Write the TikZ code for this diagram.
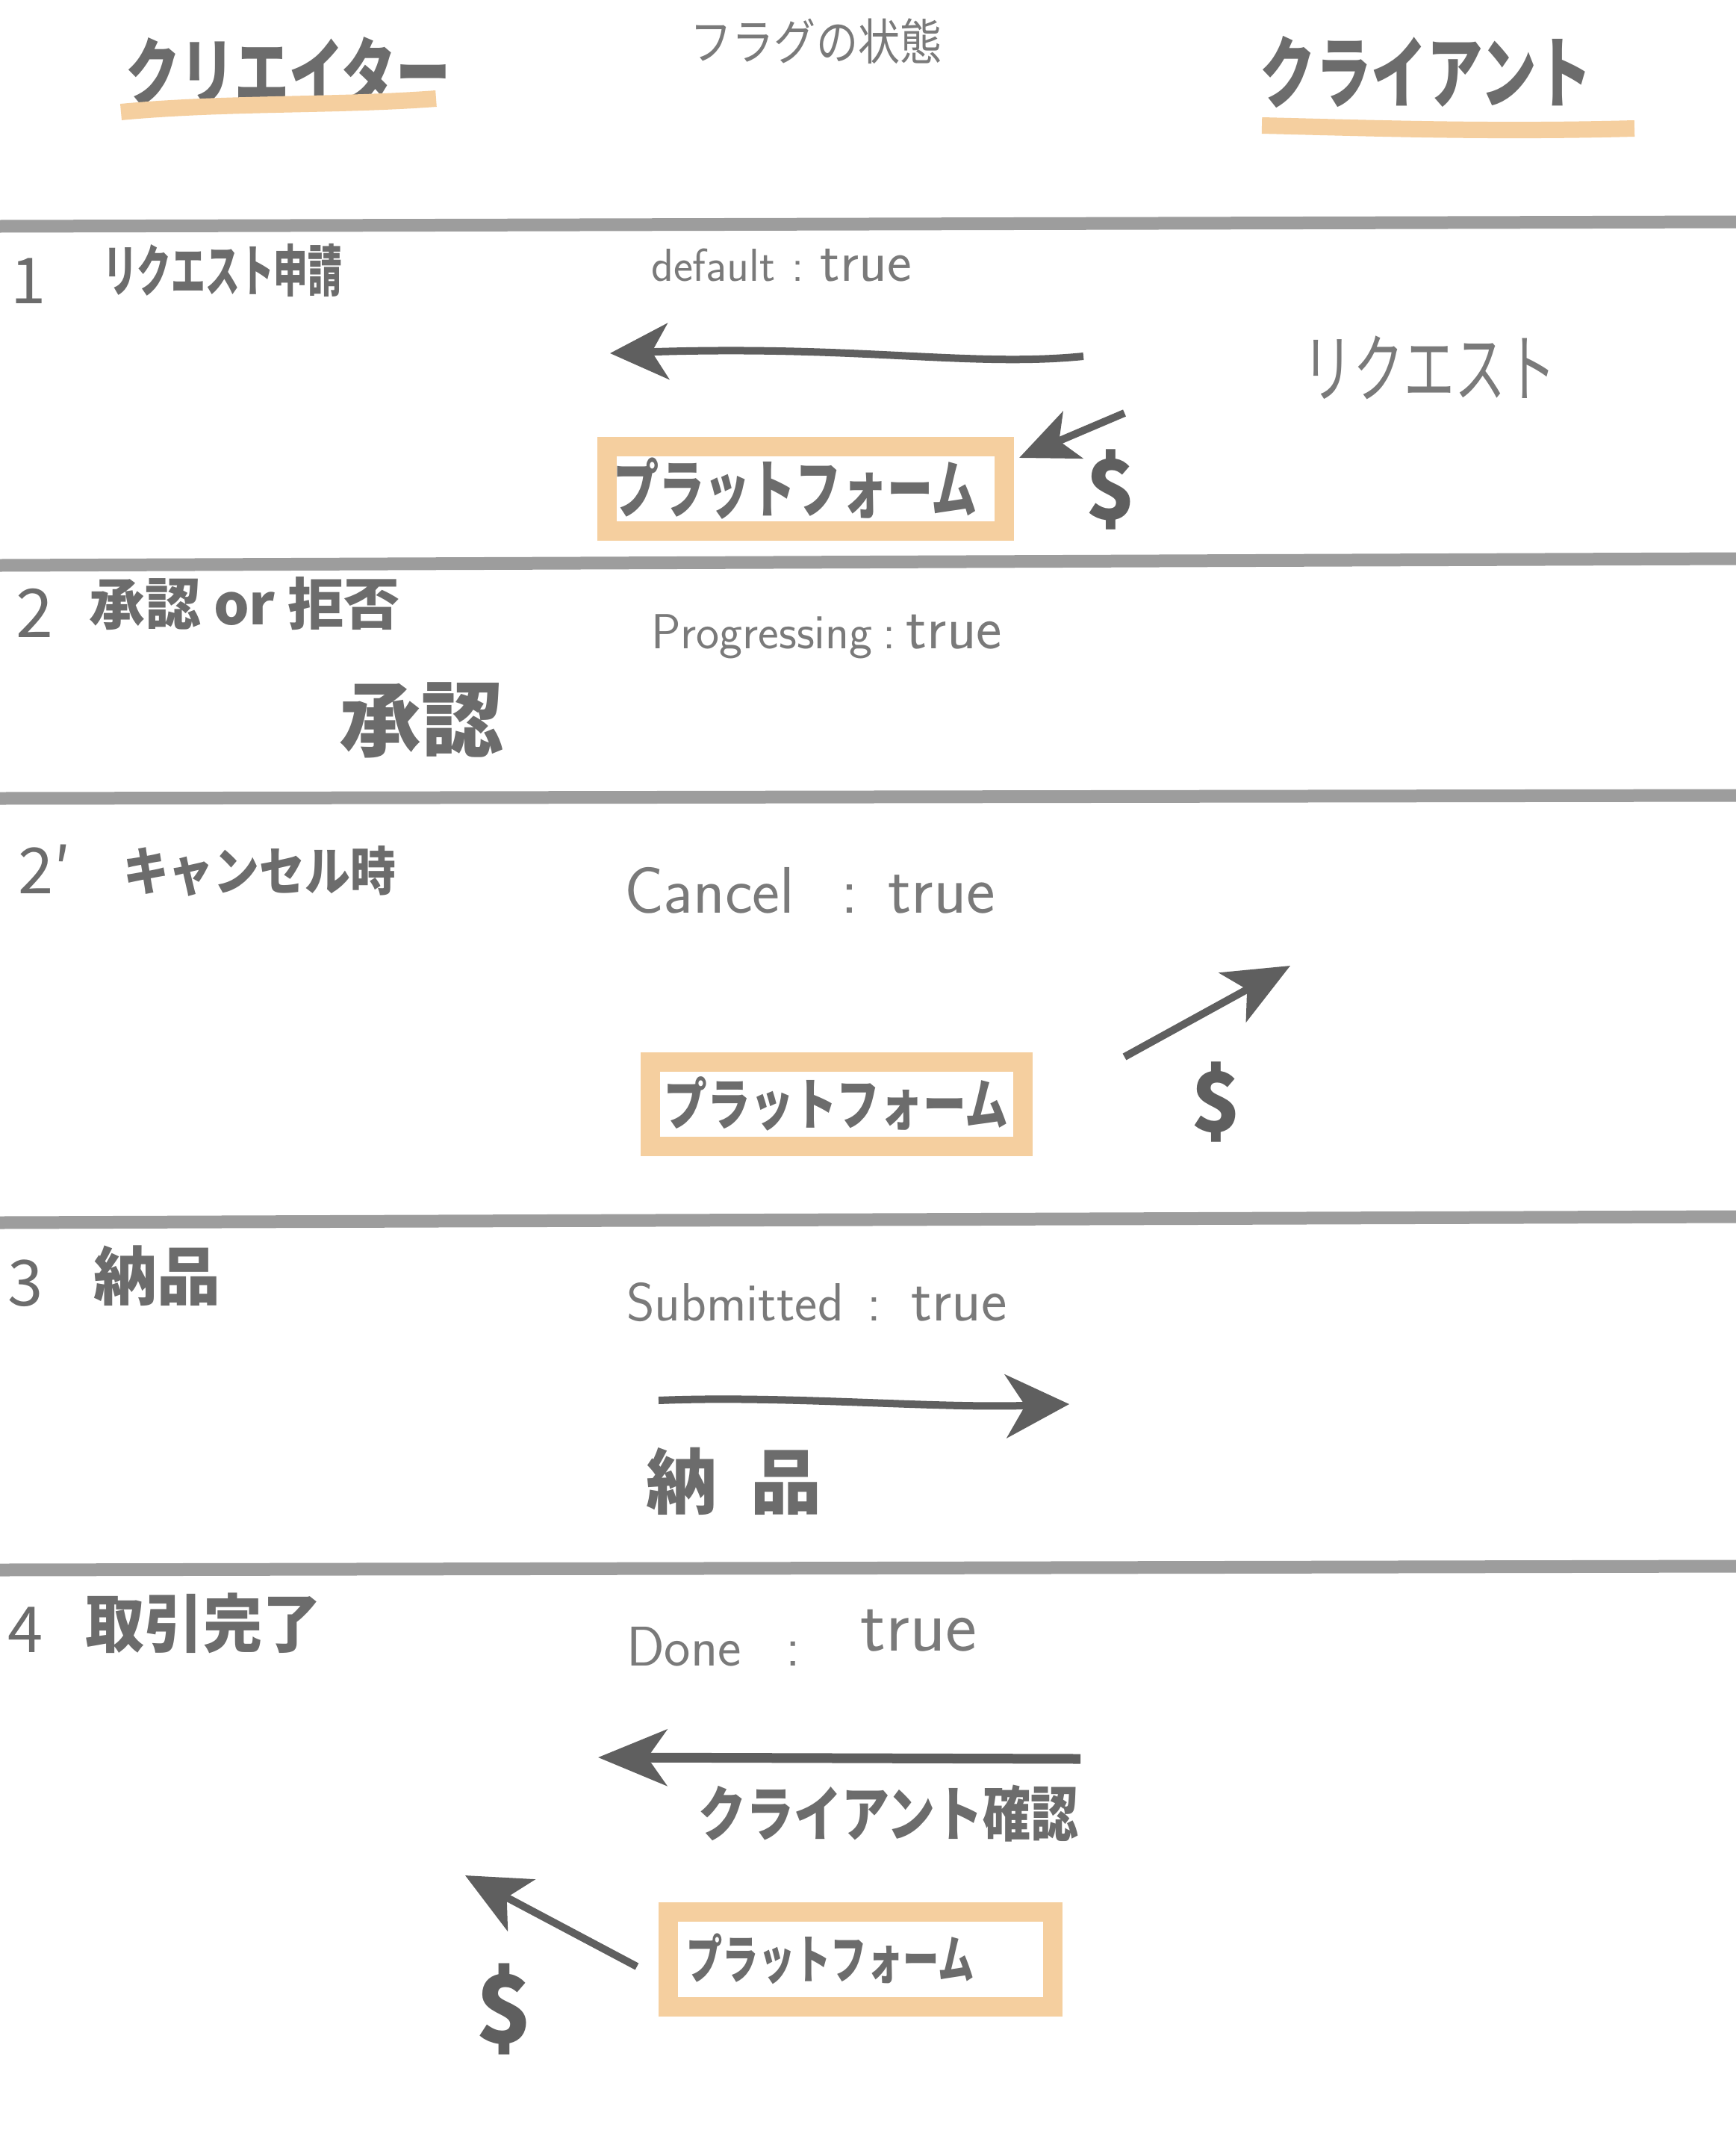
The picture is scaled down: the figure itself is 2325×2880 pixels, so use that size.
\documentclass[tikz,border=0pt]{standalone}
\usepackage{fontspec}
\setmainfont{Noto Sans CJK JP}
\usetikzlibrary{arrows.meta}
\definecolor{ink}{HTML}{6C6C6C}
\definecolor{softink}{HTML}{7A7A7A}
\definecolor{arrowc}{HTML}{5F5F5F}
\definecolor{rulec}{HTML}{9D9D9D}
\definecolor{peach}{HTML}{F5CF9F}
\newcommand\fs[1]{\fontsize{#1pt}{#1pt}\selectfont}
\newcommand\sqz[2]{\scalebox{#1}[1]{#2}}
\tikzset{
  every node/.style={inner sep=0pt, outer sep=0pt},
  ttl/.style={text=ink, font=\bfseries},
  sect/.style={text=ink, font=\bfseries},
  thinjp/.style={text=softink},
  latin/.style={text=softink, font=\sffamily, anchor=base west},
  num/.style={text=ink},
  dollar/.style={text=arrowc, font=\bfseries},
  sepline/.style={draw=rulec, line width=17pt},
  uline/.style={draw=peach, line width=22pt},
  plat/.style={draw=peach, line width=26pt, text=ink, font=\bfseries},
  arrowline/.style={draw=arrowc, line width=10pt},
  head/.style n args={3}{-{Stealth[length=#1,width=#2,inset=#3]}}
}
\begin{document}
\begin{tikzpicture}[x=1pt,y=-1pt]
\useasboundingbox[fill=white] (0,0) rectangle (2325,2880);

% header
\node[ttl] (creator) at (386,96) {\fs{100}\sqz{0.73}{クリエイター}};
\node[thinjp] (flag) at (1093,55) {\fs{66}\sqz{0.85}{フラグの状態}};
\node[ttl] (client) at (1910,96) {\fs{105}\sqz{0.71}{クライアント}};
\draw[uline] (162,150) .. controls (300,137) and (450,142) .. (584,132);
\draw[uline] (1690,168) .. controls (1850,172) and (2000,177) .. (2189,172);

% separators
\draw[sepline] (0,303) -- (2325,297);
\draw[sepline] (0,757) -- (2325,748);
\draw[sepline] (0,1069) -- (2325,1065);
\draw[sepline] (0,1637) -- (2325,1629);
\draw[sepline] (0,2102) -- (2325,2097);

% section 1
\node[num] (n1) at (38,376) {\fs{85}1};
\node[sect, anchor=west] (s1) at (138,362) {\fs{75}\sqz{0.61}{リクエスト申請}};
\node[latin] (f1) at (872,376) {\fs{62}default\hspace{22pt}:\hspace{22pt}{\fs{78}true}};
\coordinate (a1s) at (1451,477);
\coordinate (a1e) at (817,473);
\draw[arrowline, head={78pt}{75pt}{22pt}] (a1s) .. controls (1300,492) and (1150,462) .. (a1e);
\node[thinjp] (req) at (1914,492) {\fs{100}\sqz{0.68}{リクエスト}};
\node[plat, minimum width=532pt, minimum height=113pt] (plat1) at (1079,654) {\fs{85}\sqz{0.72}{プラットフォーム}\kern28pt};
\node[dollar] (d1) at (1488,656) {\fs{110}\$};
\coordinate (a2s) at (1506,553);
\coordinate (a2e) at (1365,613);
\draw[arrowline, line width=10pt, head={78pt}{68pt}{20pt}] (a2s) -- (a2e);

% section 2
\node[num] (n2) at (46,821) {\fs{90}2};
\node[sect, anchor=west] (s2) at (119,808) {\fs{75}承認 or 拒否};
\node[latin] (f2) at (872,868) {\fs{66}Progressing\hspace{14pt}:\hspace{14pt}{\fs{82}true}};
\node[ttl] (ok) at (564,964) {\fs{110}承認};

% section 2'
\node[num] (n3) at (60,1164) {\fs{85}2′};
\node[sect, anchor=west] (s3) at (165,1166) {\fs{70}\sqz{0.87}{キャンセル時}};
\node[latin] (f3) at (836,1222) {\fs{88}Cancel\hspace{62pt}:\hspace{40pt}{\fs{92}true}};
\node[plat, minimum width=499pt, minimum height=113pt] (plat2) at (1120,1478) {\fs{75}\sqz{0.77}{プラットフォーム}};
\node[dollar] (d2) at (1629,1475) {\fs{110}\$};
\coordinate (a3s) at (1506,1415);
\coordinate (a3e) at (1728,1293);
\draw[arrowline, head={88pt}{75pt}{22pt}] (a3s) -- (a3e);

% section 3
\node[num] (n4) at (34,1718) {\fs{85}3};
\node[sect, anchor=west] (s4) at (125,1708) {\fs{85}納品};
\node[latin] (f4) at (839,1768) {\fs{72}Submitted\hspace{32pt}:\hspace{40pt}{\fs{82}true}};
\coordinate (a4s) at (882,1875);
\coordinate (a4e) at (1432,1880);
\draw[arrowline, head={85pt}{85pt}{26pt}] (a4s) .. controls (1050,1868) and (1250,1886) .. (a4e);
\node[ttl] (deliv) at (983,1983) {\fs{95}納\hspace{45pt}品};

% section 4
\node[num] (n5) at (34,2182) {\fs{85}4};
\node[sect, anchor=west] (s5) at (114,2173) {\fs{85}\sqz{0.93}{取引完了}};
\node[latin] (f5) at (839,2230) {\fs{75}Done\hspace{60pt}:\hspace{80pt}\raisebox{20pt}{\fs{100}true}};
\coordinate (a5s) at (1447,2355);
\coordinate (a5e) at (801,2353);
\draw[arrowline, line width=13pt, head={92pt}{75pt}{26pt}] (a5s) -- (a5e);
\node[sect] (conf) at (1190,2428) {\fs{80}\sqz{0.8}{クライアント確認}};
\node[plat, minimum width=515pt, minimum height=127pt] (plat3) at (1152,2623) {\fs{70}\sqz{0.69}{プラットフォーム}\kern80pt};
\node[dollar] (d3) at (676,2690) {\fs{125}\$};
\coordinate (a6s) at (853,2633);
\coordinate (a6e) at (623,2511);
\draw[arrowline, head={85pt}{78pt}{22pt}] (a6s) -- (a6e);
\end{tikzpicture}
\end{document}
